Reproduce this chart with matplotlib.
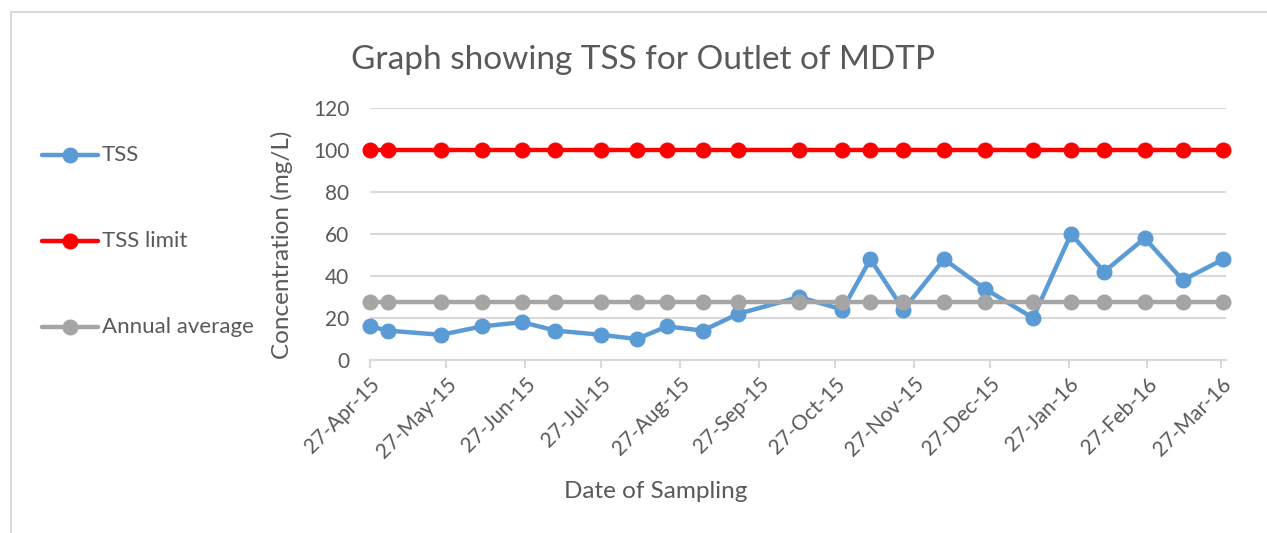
import datetime as dt

import matplotlib
matplotlib.use("Agg")
import matplotlib.pyplot as plt
import matplotlib.dates as mdates
from matplotlib.lines import Line2D

plt.rcParams['font.family'] = ['Lato', 'DejaVu Sans']

sample_dates = ["2015-04-27", "2015-05-04", "2015-05-25", "2015-06-10", "2015-06-26",
                "2015-07-09", "2015-07-27", "2015-08-10", "2015-08-22", "2015-09-05",
                "2015-09-19", "2015-10-13", "2015-10-30", "2015-11-10", "2015-11-23",
                "2015-12-09", "2015-12-25", "2016-01-13", "2016-01-28", "2016-02-10",
                "2016-02-26", "2016-03-12", "2016-03-28"]
tss = [16, 14, 12, 16, 18, 14, 12, 10, 16, 14, 22, 30, 24, 48, 24, 48, 34, 20,
       60, 42, 58, 38, 48]
tss_limit = [100] * len(tss)
annual_avg = [27.7] * len(tss)

x = [dt.datetime.strptime(d, "%Y-%m-%d") for d in sample_dates]

txt = "#595959"
grid = "#d9d9d9"

fig = plt.figure(figsize=(12.67, 5.33), dpi=100)
ax = fig.add_axes([370 / 1267, 1 - 360 / 533, (1226 - 370) / 1267, (360 - 108) / 533])

series = [
    (tss, "#5B9BD5", "TSS"),
    (tss_limit, "#FF0000", "TSS limit"),
    (annual_avg, "#A5A5A5", "Annual average"),
]
for vals, col, name in series:
    ax.plot(x, vals, color=col, lw=3.2, marker="o", ms=10.5, clip_on=False,
            solid_capstyle="round", label=name)

ax.set_ylim(0, 120)
ax.set_yticks(range(0, 121, 20))
ax.set_xlim(dt.datetime(2015, 4, 27), dt.datetime(2016, 3, 29))
ax.xaxis.set_major_locator(mdates.MonthLocator(bymonthday=27))
ax.xaxis.set_major_formatter(mdates.DateFormatter("%d-%b-%y"))

ax.grid(axis="y", color=grid, lw=1.5)
ax.set_axisbelow(True)
for s in ["top", "right", "left"]:
    ax.spines[s].set_visible(False)
ax.spines["bottom"].set_color(grid)
ax.spines["bottom"].set_linewidth(1.5)

ax.tick_params(axis="y", length=0, pad=15, labelsize=15, labelcolor=txt)
ax.tick_params(axis="x", length=6, width=1.5, color=grid, pad=4,
               labelsize=15, labelcolor=txt)
for lab in ax.get_xticklabels():
    lab.set_rotation(45)
    lab.set_ha("right")
    lab.set_rotation_mode("anchor")

fig.text(656 / 1267, 1 - 492 / 533, "Date of Sampling", ha="center", va="center",
         fontsize=17.5, color=txt)
fig.text(282 / 1267, 1 - 245 / 533, "Concentration (mg/L)", ha="center", va="center",
         rotation=90, fontsize=17.5, color=txt)
fig.text(643 / 1267, 1 - 60 / 533, "Graph showing TSS for Outlet of MDTP", ha="center",
         va="center", fontsize=24, color=txt)

# legend on the left, drawn by hand to get the wide spacing
for i, (vals, col, name) in enumerate(series):
    yy = 1 - (155 + 86 * i) / 533
    fig.add_artist(Line2D([42 / 1267, 98 / 1267], [yy, yy], color=col, lw=3.2,
                          solid_capstyle="round"))
    fig.add_artist(Line2D([70 / 1267], [yy], color=col, marker="o", ms=10.5))
    fig.text(102 / 1267, yy, name, ha="left", va="center", fontsize=16, color=txt)

# chart frame (left and top edges)
fig.add_artist(Line2D([11 / 1267, 11 / 1267], [0, 1 - 12 / 533], color=grid, lw=1.5))
fig.add_artist(Line2D([11 / 1267, 1], [1 - 12 / 533, 1 - 12 / 533], color=grid, lw=1.5))

fig.savefig("out.png", dpi=100)
